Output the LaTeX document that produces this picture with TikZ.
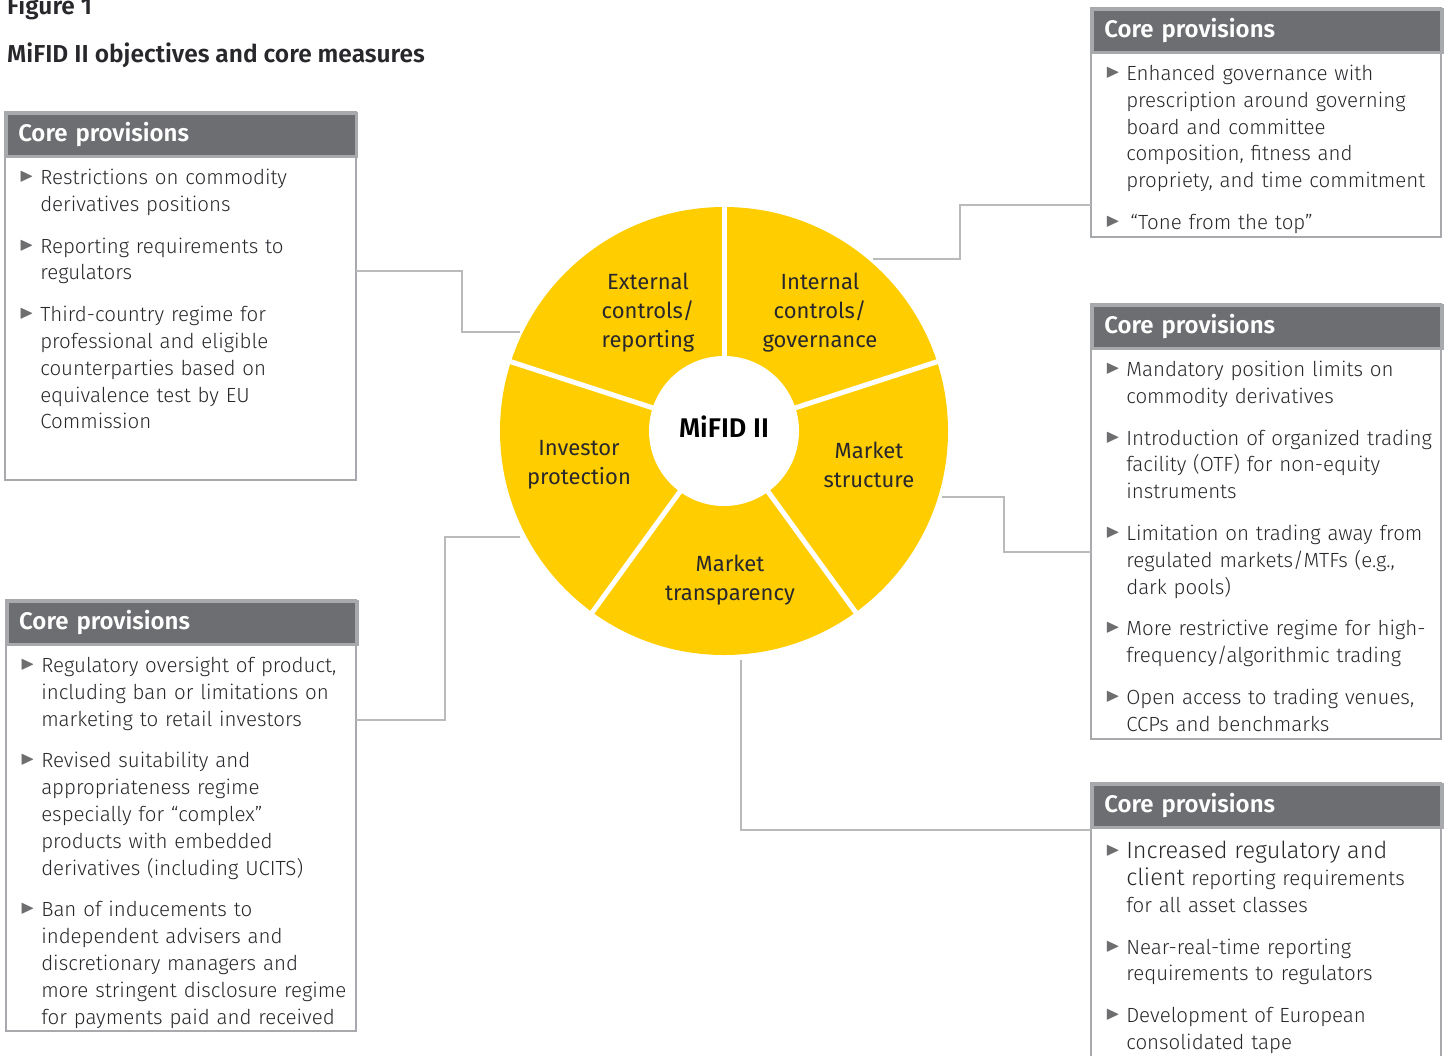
\documentclass[tikz,border=0pt]{standalone}
\usepackage{fontspec}
\usepackage{amssymb}
\setmainfont{Fira Sans}[UprightFont={* Light}, BoldFont={* SemiBold}]
\newfontfamily\segfont{Fira Sans}
\usetikzlibrary{positioning}

\definecolor{eyyellow}{RGB}{255,205,0}
\definecolor{hdgray}{RGB}{109,110,113}
\definecolor{rimgray}{RGB}{168,169,172}
\definecolor{linkgray}{RGB}{185,186,188}
\definecolor{txtgray}{RGB}{40,40,44}
\definecolor{bulgray}{RGB}{110,110,112}

\tikzstyle{titletext}=[font=\bfseries\fontsize{24.5}{28}\selectfont, text=txtgray, inner sep=0pt, anchor=base west]
\tikzstyle{framebox}=[inner sep=0pt, outer sep=0pt, anchor=north west]
\tikzstyle{hdbox}=[fill=hdgray, draw=rimgray, line width=2.5pt, text=white, font=\bfseries\fontsize{24}{28}\selectfont, text width=326pt, align=left, inner xsep=12pt, minimum height=43pt, anchor=north west]
\tikzstyle{provbody}=[text=txtgray, font=\fontsize{20.5}{26.8}\selectfont, text width=326pt, align=left, inner xsep=12pt, inner ysep=0pt]
\tikzstyle{seglabel}=[font=\segfont\fontsize{22}{29}\selectfont, align=center, text=txtgray]
\tikzstyle{rim}=[draw=rimgray, line width=2.5pt]
\tikzstyle{link}=[draw=linkgray, line width=2.5pt]
\tikzstyle{sep}=[draw=white, line width=5pt]

\newenvironment{provlist}{\begin{list}{\makebox[10pt][l]{\textcolor{bulgray}{\raisebox{3pt}{\fontsize{19}{19}\selectfont$\blacktriangleright$}}}}{%
  \setlength{\leftmargin}{22pt}\setlength{\rightmargin}{-10pt}\setlength{\labelwidth}{10pt}\setlength{\labelsep}{11pt}%
  \setlength{\itemsep}{15pt}\setlength{\parsep}{0pt}\setlength{\topsep}{0pt}\setlength{\partopsep}{0pt}}}{\end{list}}

\begin{document}
\begin{tikzpicture}[x=1pt,y=-1pt]
\useasboundingbox (0,0) rectangle (1450,1055);
\clip (0,0) rectangle (1450,1055);

% title
\node[titletext] (fig) at (7,14) {Figure 1};
\node[titletext] (ttl) at (7,62) {MiFID II objectives and core measures};

% wheel
\coordinate (c) at (724,431);
\fill[eyyellow] (c) circle[radius=224];
\foreach \a in {90,162,234,306,18}
    \draw[sep] (c) -- ++(-\a:227);
\fill[white] (c) circle[radius=75];
\node[font=\bfseries\fontsize{27}{30}\selectfont, text=black] (mi) at (724,427) {MiFID II};
\node[seglabel] (s1) at (648,313) {External\\controls/\\reporting};
\node[seglabel] (s2) at (820,313) {Internal\\controls/\\governance};
\node[seglabel] (s3) at (579,465) {Investor\\protection};
\node[seglabel] (s4) at (869,465) {Market\\structure};
\node[seglabel] (s5) at (730,580) {Market\\transparency};

\coordinate (pe) at (520,332);
\coordinate (pi) at (873,259);
\coordinate (ps) at (942,497);
\coordinate (pp) at (520,537);
\coordinate (pt) at (741,660);

% left top
\node[framebox, minimum width=351pt, minimum height=368pt] (f1) at (5,112) {};
\node[hdbox] (h1) at (f1.north west) {Core provisions};
\node[provbody, below=0pt of h1] (b1) {\begin{provlist}
  \item Restrictions on commodity\\derivatives positions
  \item Reporting requirements to\\regulators
  \item Third-country regime for\\professional and eligible\\counterparties based on\\equivalence test by EU\\Commission
\end{provlist}};

% left bottom
\node[framebox, minimum width=350pt, minimum height=431pt] (f2) at (6,600) {};
\node[hdbox] (h2) at (f2.north west) {Core provisions};
\node[provbody, below=0pt of h2] (b2) {\begin{provlist}
  \item Regulatory oversight of product,\\including ban or limitations on\\marketing to retail investors
  \item Revised suitability and\\appropriateness regime\\especially for ``complex''\\products with embedded\\derivatives (including UCITS)
  \item Ban of inducements to\\independent advisers and\\discretionary managers and\\more stringent disclosure regime\\for payments paid and received
\end{provlist}};

% right top
\node[framebox, minimum width=350pt, minimum height=229pt] (f3) at (1091,8) {};
\node[hdbox] (h3) at (f3.north west) {Core provisions};
\node[provbody, below=0pt of h3] (b3) {\begin{provlist}
  \item Enhanced governance with\\prescription around governing\\board and committee\\composition, fitness and\\propriety, and time commitment
  \item \hspace{4pt}``Tone from the top''
\end{provlist}};

% right middle
\node[framebox, minimum width=350pt, minimum height=435pt] (f4) at (1091,304) {};
\node[hdbox] (h4) at (f4.north west) {Core provisions};
\node[provbody, below=0pt of h4] (b4) {\begin{provlist}
  \item Mandatory position limits on\\commodity derivatives
  \item Introduction of organized trading\\facility (OTF) for non-equity\\instruments
  \item Limitation on trading away from\\regulated markets/MTFs (e.g.,\\dark pools)
  \item More restrictive regime for high-\\frequency/algorithmic trading
  \item Open access to trading venues,\\CCPs and benchmarks
\end{provlist}};

% right bottom
\node[framebox, minimum width=350pt, minimum height=300pt] (f5) at (1091,783) {};
\node[hdbox] (h5) at (f5.north west) {Core provisions};
\node[provbody, below=0pt of h5] (b5) {\begin{provlist}
  \item {\fontsize{23.5}{30}\selectfont Increased regulatory and\\client} reporting requirements\\for all asset classes
  \item Near-real-time reporting\\requirements to regulators
  \item Development of European\\consolidated tape
\end{provlist}};

\foreach \f in {f1,f2,f3,f4,f5}
    \draw[rim] (\f.north west) rectangle (\f.south east);

% connectors
\draw[link] (f1.east |- 0,271) -- (462,271) |- (pe);
\draw[link] (f3.west |- 0,205) -- (960,205) |- (pi);
\draw[link] (f4.west |- 0,552) -- (1004,552) |- (ps);
\draw[link] (f2.east |- 0,720) -- (445,720) |- (pp);
\draw[link] (pt) |- (f5.west |- 0,830);
\end{tikzpicture}
\end{document}
